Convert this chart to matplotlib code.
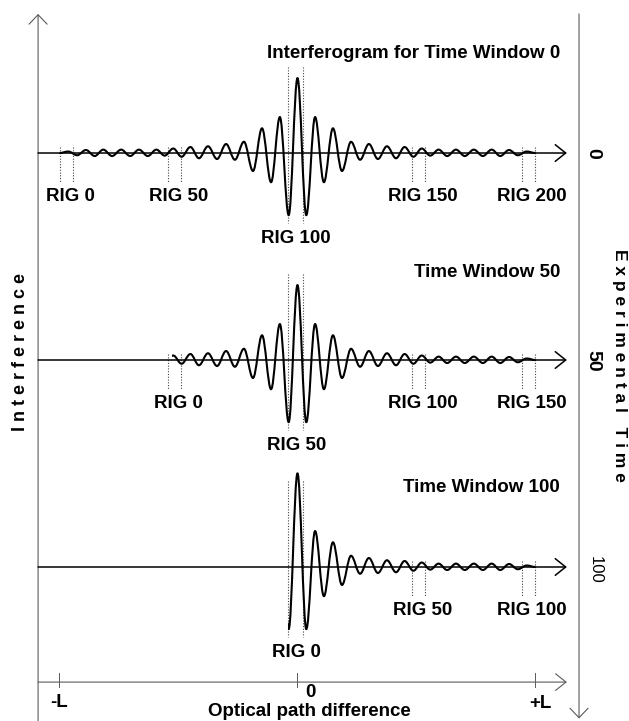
import matplotlib
matplotlib.use("Agg")
import matplotlib.pyplot as plt
from matplotlib.path import Path
from matplotlib.patches import PathPatch, Rectangle

plt.rcParams['font.family'] = ['Liberation Sans', 'DejaVu Sans']

# ---------------- data ----------------
# extrema of the interferogram, right half; optical path difference in units where L = 100
extrema_opd = [0.0, 3.7, 7.4, 11.1, 14.9, 18.7, 22.5, 26.3, 30.0, 33.8, 37.6, 41.4,
               45.0, 48.7, 52.2, 55.8, 59.3, 62.9, 66.6, 70.3, 74.1, 77.9, 81.6,
               85.2, 88.9, 92.6, 96.3, 100.0]
extrema_amp = [1.0, -0.83, 0.48, -0.39, 0.33, -0.24, 0.15, -0.09, 0.12, -0.08, 0.09,
               -0.07, 0.08, -0.05, 0.06, -0.035, 0.045, -0.04, 0.045, -0.04, 0.045,
               -0.04, 0.045, -0.04, 0.04, -0.03, 0.02, 0.0]
window_times = [0, 50, 100]
window_titles = ["Interferogram for Time Window 0", "Time Window 50", "Time Window 100"]
window_start_opd = [-100.0, -52.7, -3.8]
window_center_peak = [1.0, 1.0, 1.25]
rig_mark_opd = [-97.0, -51.5, -0.8, 51.0, 97.0]
window_first_mark = [0, 1, 2]
rig_step = 50
opd_ticks = [-100, 0, 100]
opd_tick_labels = ["-L", "0", "+L"]
time_labels = ["0", "50", "100"]

# ---------------- layout ----------------
fig = plt.figure(figsize=(6.29, 7.21), dpi=100)
ax = fig.add_axes([0, 0, 1, 1])
ax.set_xlim(-125.0, 139.3)
ax.set_ylim(137.2, -36.96)
ax.axis('off')

AMP = 18.1          # time units per unit of interference amplitude
C = 0.364           # bezier tension for a cosine-like half wave
x_left_axis = -109.0
x_arrow_end = 113.2
x_right_axis = 118.3
t_top = -33.6
t_bottom_axis = 127.8
axis_color = '#5a5a5a'
bold = dict(fontweight='bold')
title_offsets = [-22.9, -20.0, -18.1]
tick_label_dx = {"-L": 0.0, "0": 5.3, "+L": 1.9}
tick_label_t = {"-L": 132.7, "0": 130.2, "+L": 132.9}


def arrow(xy_from, xy_to, color, lw, hl, hw):
    ax.annotate('', xy=xy_to, xytext=xy_from,
                arrowprops=dict(arrowstyle=f'->,head_length={hl},head_width={hw}',
                                color=color, lw=lw, shrinkA=0, shrinkB=0,
                                mutation_scale=10))


# axes of the drawing
arrow((x_left_axis, 137.2), (x_left_axis, t_top), axis_color, 0.8, 0.68, 0.65)
arrow((x_left_axis, t_bottom_axis), (x_arrow_end, t_bottom_axis), axis_color, 0.8, 0.75, 0.6)
arrow((x_right_axis, t_top), (x_right_axis, 136.6), axis_color, 0.8, 0.68, 0.65)

for xt, lab in zip(opd_ticks, opd_tick_labels):
    ax.plot([xt, xt], [125.6, 129.0], color=axis_color, lw=0.7)
    ax.text(xt + tick_label_dx[lab], tick_label_t[lab], lab, ha='center', va='center',
            fontsize=13.5, **bold)
ax.text(5.0, 134.9, "Optical path difference", ha='center', va='center',
        fontsize=13.5, **bold)

ax.text(-116.2, 48.1, " ".join("Interference"), rotation=90, ha='center', va='center',
        fontsize=13, **bold)
ax.text(135.2, 51.4, " ".join("Experimental Time"), rotation=-90, ha='center',
        va='center', fontsize=12.5, **bold)

for t0, lab in zip(window_times, time_labels):
    if lab == "100":
        ax.text(125.0, t0 + 0.6, lab, rotation=-90, ha='center', va='center', fontsize=12)
    else:
        ax.text(124.0, t0 + 0.2, lab, rotation=-90, ha='center', va='center',
                fontsize=14, **bold)

# full (two sided) list of extrema
xs_full = [-x for x in reversed(extrema_opd[1:])] + extrema_opd
amps_full = list(reversed(extrema_amp[1:])) + extrema_amp
i_center = len(extrema_opd) - 1

for w, t0 in enumerate(window_times):
    amps = list(amps_full)
    amps[i_center] = window_center_peak[w]
    ys = [t0 - AMP * a for a in amps]
    verts = [(xs_full[0], ys[0])]
    codes = [Path.MOVETO]
    for i in range(1, len(xs_full)):
        x0, y0, x1, y1 = xs_full[i - 1], ys[i - 1], xs_full[i], ys[i]
        dx = x1 - x0
        verts += [(x0 + C * dx, y0), (x1 - C * dx, y1), (x1, y1)]
        codes += [Path.CURVE4] * 3
    patch = PathPatch(Path(verts, codes), fill=False, lw=1.5, edgecolor='black',
                      joinstyle='round', capstyle='butt', zorder=3)
    ax.add_patch(patch)
    clip = Rectangle((window_start_opd[w], -40), 300, 200, transform=ax.transData)
    patch.set_clip_path(clip)

    # baseline with arrow
    arrow((x_left_axis, t0), (x_arrow_end, t0), 'black', 1.1, 0.75, 0.6)

    # title
    ax.text(110.3, t0 + title_offsets[w], window_titles[w], ha='right', va='baseline',
            fontsize=13.5, **bold)

    # RIG markers
    for j, m in enumerate(range(window_first_mark[w], len(rig_mark_opd))):
        xm = rig_mark_opd[m]
        is_center = abs(xm) < 5
        half = 3.2 if is_center else 2.7
        y_lo, y_hi = (-20.8, 16.9) if is_center else (-1.5, 7.2)
        for xd in (xm - half, xm + half):
            ax.plot([xd, xd], [t0 + y_lo, t0 + y_hi], color='#444444', lw=0.8,
                    linestyle=(0, (1, 1.5)), zorder=2)
        ax.text(xm + (0.3 if is_center else 1.5), t0 + (21.8 if is_center else 11.6),
                f"RIG {j * rig_step}", ha='center', va='baseline', fontsize=13.5, **bold)

fig.savefig("out.png", dpi=100)
